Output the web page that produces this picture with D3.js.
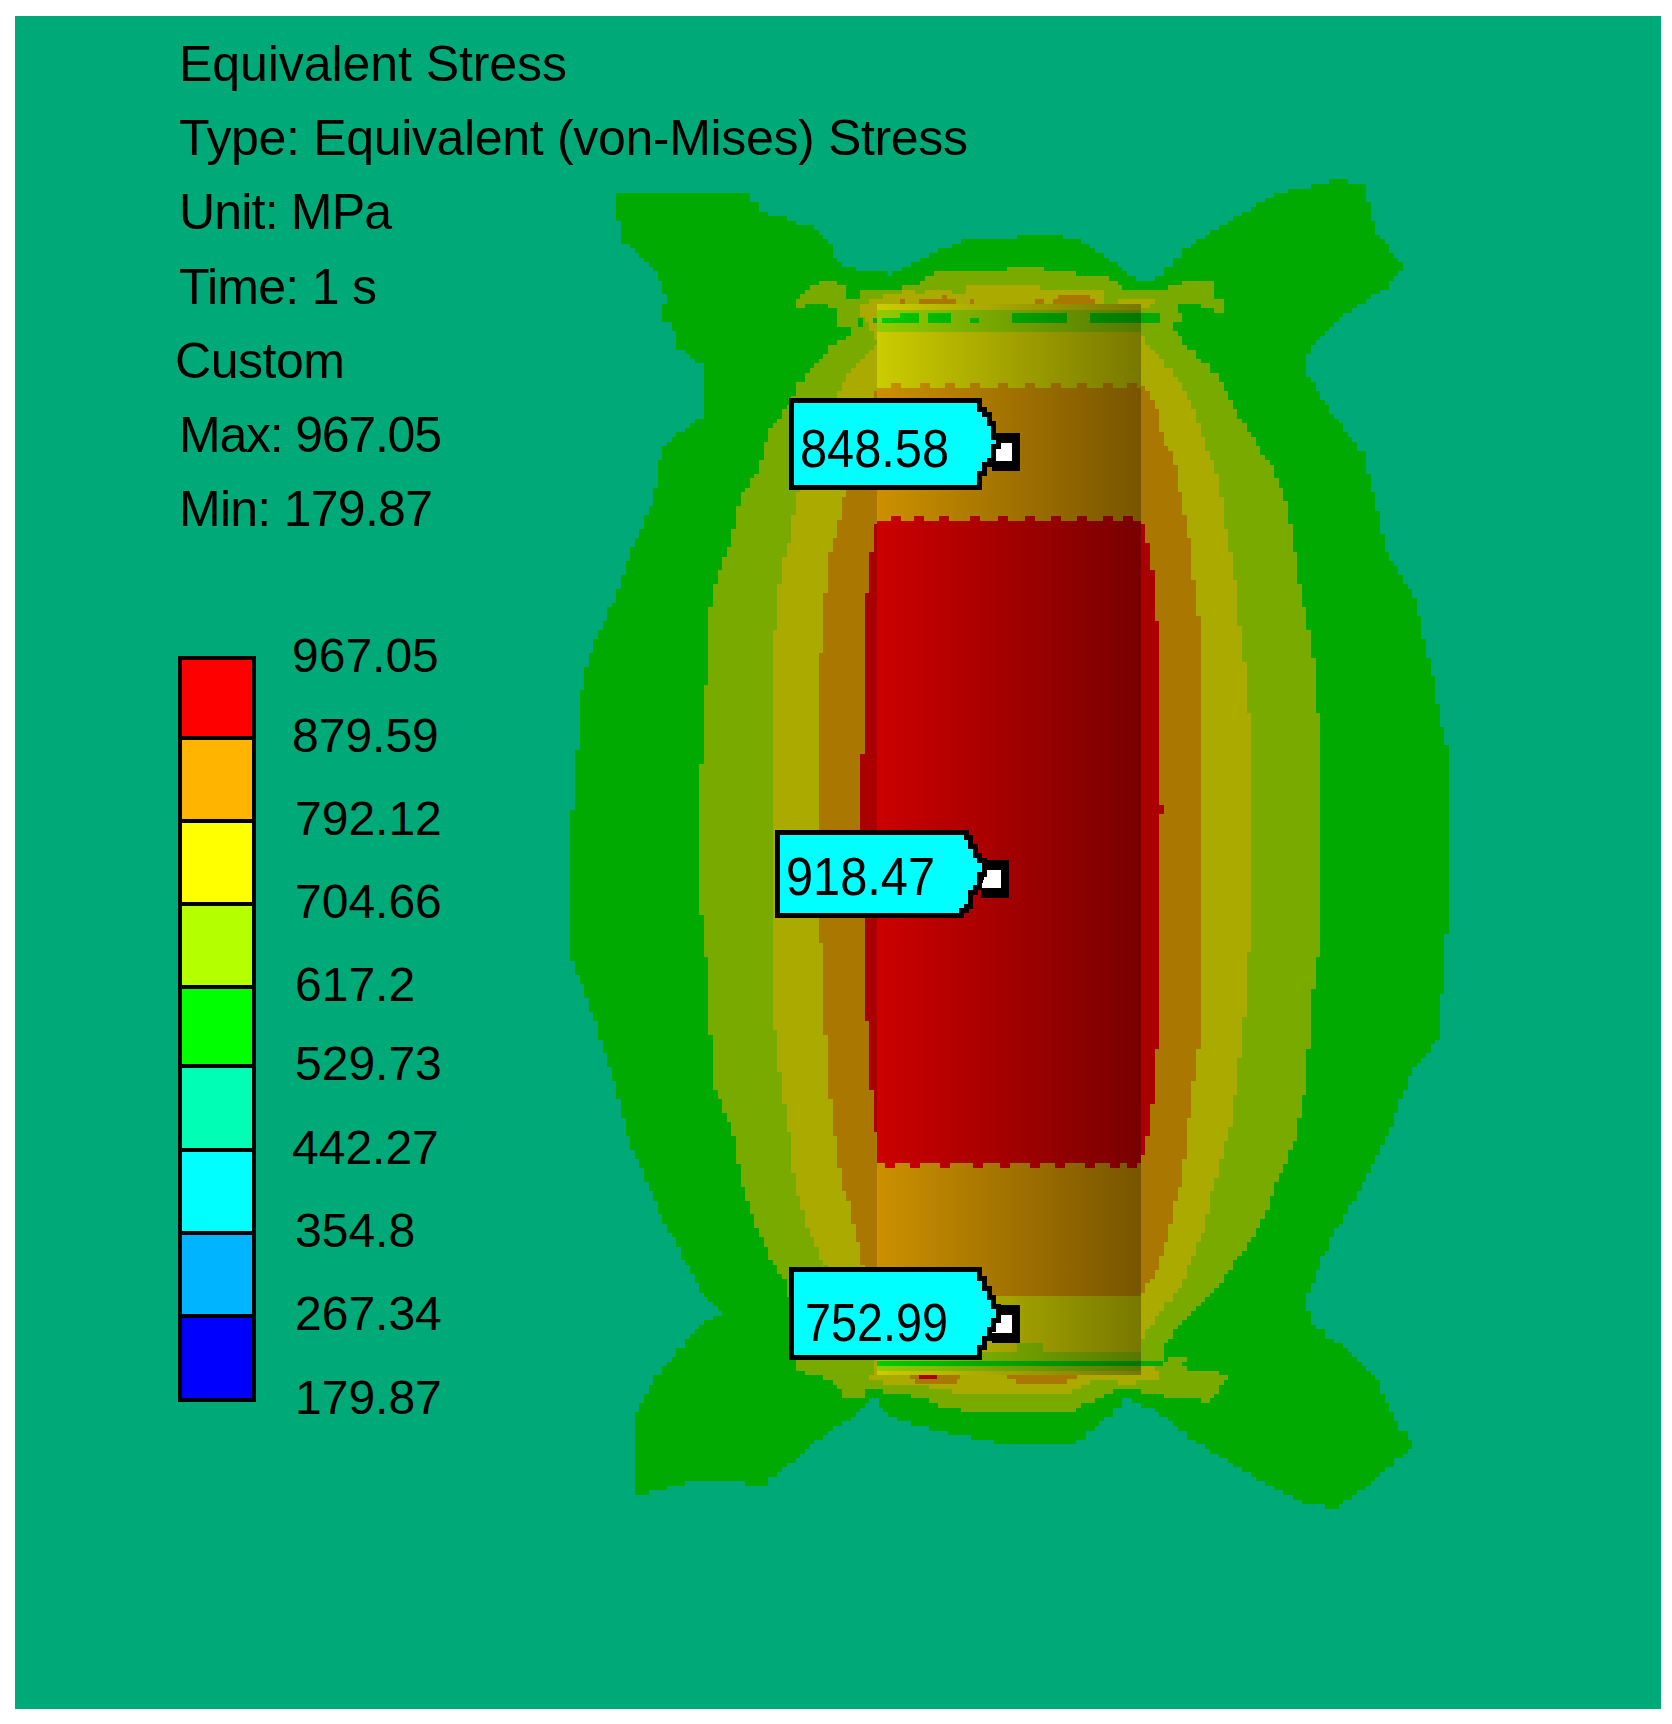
<!DOCTYPE html>
<html>
<head>
<meta charset="utf-8">
<title>Equivalent Stress</title>
<style>
body { margin: 0; background: #fff; }
svg { display: block; }
text { font-family: "Liberation Sans", sans-serif; fill: #000; }
.header { font-size: 50px; }
.tick { font-size: 48px; }
.tag { font-size: 54px; }
</style>
</head>
<body>
<script src="https://d3js.org/d3.v7.min.js"></script>
<script>
// legend
var legendLabels = ["967.05", "879.59", "792.12", "704.66", "617.2", "529.73", "442.27", "354.8", "267.34", "179.87"];
var legendColors = ["#ff0000", "#ffb400", "#ffff00", "#b4ff00", "#00ff00", "#00ffb4", "#00ffff", "#00b4ff", "#0000ff"];

// header lines
var headerLines = ["Equivalent Stress", "Type: Equivalent (von-Mises) Stress", "Unit: MPa", "Time: 1 s", "Custom", "Max: 967.05", "Min: 179.87"];

// probes
var probeLabels = ["848.58", "918.47", "752.99"];
var probeX = [1006, 995, 1006];
var probeY = [452, 879, 1324];

// contour outlines, one per lower stress limit
var contour529 = [[617,193],[715,193],[752,193],[752,202],[762,212],[783,217],[798,225],[812,225],[827,240],[840,267],[873,272],[890,275],[910,263],[962,240],[1045,235],[1077,240],[1114,263],[1134,280],[1154,280],[1180,253],[1212,230],[1249,207],[1280,192],[1335,180],[1364,184],[1375,230],[1404,269],[1387,288],[1352,311],[1329,330],[1306,357],[1306,372],[1329,410],[1364,456],[1373,494],[1387,556],[1416,602],[1433,682],[1447,750],[1451,872],[1444,974],[1438,1041],[1410,1076],[1387,1138],[1364,1183],[1329,1245],[1306,1303],[1312,1326],[1341,1347],[1375,1377],[1392,1418],[1415,1446],[1352,1500],[1335,1509],[1298,1500],[1249,1474],[1203,1446],[1168,1418],[1130,1397],[1108,1418],[1077,1444],[1008,1444],[950,1433],[892,1418],[875,1397],[853,1418],[836,1428],[767,1484],[692,1482],[635,1497],[635,1413],[655,1377],[698,1326],[721,1313],[703,1291],[663,1219],[629,1138],[609,1061],[577,969],[571,954],[571,826],[577,750],[582,686],[586,667],[594,640],[615,598],[629,556],[649,508],[659,470],[659,458],[663,448],[678,433],[700,417],[706,400],[706,365],[692,358],[678,345],[673,327],[664,317],[664,305],[668,295],[664,295],[663,282],[655,270],[632,245],[623,243],[617,212]];
var contour617 = [[795,297],[808,290],[817,282],[835,282],[845,285],[845,299],[858,299],[858,290],[900,290],[900,286],[915,285],[928,276],[940,272],[1007,272],[1007,267],[1043,267],[1043,272],[1077,272],[1077,276],[1103,276],[1118,285],[1127,290],[1150,292],[1168,287],[1183,282],[1215,282],[1215,300],[1225,300],[1225,313],[1207,307],[1178,303],[1178,315],[1183,318],[1183,323],[1173,323],[1173,332],[1178,338],[1197,357],[1220,380],[1234,410],[1272,468],[1289,514],[1295,556],[1303,609],[1312,644],[1318,716],[1322,750],[1322,939],[1315,969],[1306,1087],[1295,1143],[1278,1183],[1260,1229],[1217,1290],[1197,1310],[1173,1333],[1163,1353],[1163,1361],[1173,1357],[1188,1357],[1183,1366],[1188,1370],[1230,1375],[1217,1393],[1212,1403],[1202,1403],[1202,1398],[1178,1398],[1150,1393],[1127,1389],[1110,1393],[1105,1397],[1077,1407],[1077,1412],[980,1412],[947,1407],[937,1402],[915,1397],[913,1393],[887,1393],[882,1389],[863,1389],[863,1397],[840,1397],[840,1389],[831,1379],[817,1375],[808,1379],[808,1375],[798,1366],[787,1280],[772,1260],[758,1229],[744,1189],[732,1127],[715,1087],[710,1025],[706,954],[698,877],[698,842],[702,750],[702,724],[706,686],[710,609],[715,582],[732,533],[741,494],[757,470],[762,457],[767,433],[793,397],[798,383],[810,370],[830,347],[852,332],[853,327],[831,323],[835,318],[835,310],[827,305],[807,305],[798,308]];
var contour704 = [[858,304],[868,300],[892,295],[905,290],[913,290],[915,295],[928,290],[950,290],[955,295],[965,295],[965,286],[1040,286],[1040,290],[1103,290],[1103,303],[1127,300],[1155,300],[1150,308],[1141,309],[1141,338],[1150,348],[1168,370],[1177,380],[1191,403],[1203,441],[1220,487],[1226,533],[1234,571],[1240,628],[1246,682],[1252,750],[1253,923],[1249,954],[1243,1041],[1237,1081],[1232,1122],[1214,1189],[1203,1234],[1180,1290],[1160,1313],[1141,1340],[1141,1366],[1160,1370],[1160,1378],[1130,1384],[1100,1380],[1080,1388],[1070,1393],[960,1393],[937,1388],[914,1384],[882,1384],[882,1379],[868,1379],[868,1375],[877,1370],[864,1290],[824,1265],[807,1224],[795,1184],[790,1138],[781,1081],[775,1025],[771,964],[771,750],[775,628],[781,571],[790,533],[798,491],[840,388],[850,370],[868,352],[877,340]];
var contour792 = [[877,388],[1145,388],[1155,406],[1164,445],[1174,460],[1180,498],[1189,540],[1191,563],[1197,605],[1202,670],[1202,1000],[1197,1071],[1191,1092],[1189,1122],[1183,1173],[1174,1209],[1168,1240],[1160,1265],[1141,1296],[877,1296],[864,1270],[858,1240],[847,1194],[841,1178],[830,1097],[826,1041],[821,939],[817,903],[817,796],[821,750],[821,651],[826,590],[830,552],[836,533],[840,514],[845,491],[873,391]];
var contour879 = [[877,521],[1141,521],[1145,531],[1151,559],[1155,605],[1160,661],[1160,806],[1164,811],[1160,815],[1160,1013],[1155,1076],[1151,1117],[1145,1153],[1141,1163],[877,1163],[877,1138],[873,1102],[868,1036],[863,954],[863,842],[859,768],[863,750],[863,640],[868,582],[873,540]];

// cylinder face, stress per section going down
var cylinderBreaks = [304, 310, 332, 388, 521, 1163, 1296, 1352, 1366, 1371, 1375];
var cylinderStress = [750, 650, 750, 835, 920, 835, 750, 650, 650, 750];

// bright marks lying on the cylinder, shaded with it: x0, x1, y0, y1, stress
var facePatches = [
  [882,900,318,323,570],[900,919,313,323,570],[928,951,313,323,570],[970,979,318,323,570],
  [1012,1067,313,323,570],[1090,1141,313,323,570],
  [895,1141,1361,1366,570],[877,895,1361,1366,570],[1017,1043,1343,1352,650]
];

// small patches off the cylinder: x0, x1, y0, y1, stress
var patches = [
  [900,905,299,304,835],[919,956,299,304,835],[942,947,295,299,835],[970,974,299,304,835],
  [1035,1044,299,304,835],[1053,1095,299,304,835],[1058,1090,295,299,835],
  [1141,1160,313,323,570],[858,863,318,327,570],[873,877,318,323,570],[1141,1163,1361,1366,570],
  [910,960,1375,1379,835],[915,957,1379,1384,835],[919,937,1375,1379,920],
  [1007,1077,1375,1379,835],[1016,1067,1379,1384,835]
];

// teeth on the band edges of the cylinder
var teethTop = [896,919,944,975,1003,1030,1056,1082,1108,1128];
var teethBottom = [890,915,945,978,1005,1035,1060,1090,1115,1132];
var teethUpper = [896,925,950,975,1003,1030,1056,1082,1108,1132];

var width = 1672, height = 1724, cell = 4.6;

// tag boxes, outer edges
var tagLeft = [789, 775, 789], tagTop = [397, 829, 1269], tagBottom = [488, 919, 1361];
var tagBase = [467, 895, 1341], tagTextX = [800, 786, 805], tagTextLen = [149, 149, 143];
// legend edges
var legendEdges = [658, 738, 821, 904, 987, 1066, 1150, 1233, 1316, 1400];
var headerWidths = [388, 789, 213, 198, 170, 263, 254];

var svg = d3.select("body").append("svg").attr("width", width).attr("height", height);

var x = d3.scaleIdentity().domain([0, width]);
var y = d3.scaleIdentity().domain([0, height]);

// bands on the model are the legend colours at 2/3 brightness
var legendLimits = legendLabels.slice().reverse().map(Number);
var colorOf = d3.scaleThreshold()
    .domain(legendLimits.slice(1, -1))
    .range(legendColors.slice().reverse());

function dim(c) {
    var r = d3.rgb(c);
    return d3.rgb(r.r * 2 / 3, r.g * 2 / 3, r.b * 2 / 3).formatHex();
}

// snap an outline to the coarse pixels of the solver screenshot
function stairs(points) {
    var out = [];
    points.concat([points[0]]).forEach(function(p, i, all) {
        if (i == 0) return;
        var a = all[i - 1];
        var n = Math.ceil(Math.hypot(p[0] - a[0], p[1] - a[1]) / cell);
        for (var k = 0; k <= n; k++) {
            var sx = Math.round((a[0] + (p[0] - a[0]) * k / n) / cell) * cell;
            var sy = Math.round((a[1] + (p[1] - a[1]) * k / n) / cell) * cell;
            var last = out[out.length - 1];
            if (last && last[0] != sx && last[1] != sy) out.push([sx, last[1]]);
            out.push([sx, sy]);
        }
    });
    return out;
}

var line = d3.line().x(function(d) { return x(d[0]); }).y(function(d) { return y(d[1]); });

// background
svg.append("rect").attr("x", 15).attr("y", 16).attr("width", 1646).attr("height", 1693)
    .attr("fill", dim(colorOf(500)));

// contours
var contours = [[contour529, 570], [contour617, 650], [contour704, 750], [contour792, 835], [contour879, 920]];
svg.append("g").selectAll("path").data(contours).enter().append("path")
    .attr("d", function(d) { return line(stairs(d[0])) + "Z"; })
    .attr("fill", function(d) { return dim(colorOf(d[1])); })
    .attr("shape-rendering", "crispEdges");

// cylinder
var shade = svg.append("defs").append("linearGradient").attr("id", "shade");
shade.append("stop").attr("offset", "0%").attr("stop-color", "#000").attr("stop-opacity", 0.2);
shade.append("stop").attr("offset", "100%").attr("stop-color", "#000").attr("stop-opacity", 0.53);

var cylX0 = 877, cylX1 = 1141;
var cyl = svg.append("g").attr("shape-rendering", "crispEdges");
cyl.selectAll("rect.section").data(cylinderStress).enter().append("rect")
    .attr("class", "section")
    .attr("x", x(cylX0)).attr("width", x(cylX1) - x(cylX0))
    .attr("y", function(d, i) { return y(cylinderBreaks[i]); })
    .attr("height", function(d, i) { return y(cylinderBreaks[i + 1]) - y(cylinderBreaks[i]); })
    .attr("fill", function(d) { return colorOf(d); });

function teeth(xs, top, stress) {
    cyl.append("g").selectAll("rect").data(xs).enter().append("rect")
        .attr("x", function(d) { return x(d) - 5; }).attr("width", 10)
        .attr("y", y(top)).attr("height", cell)
        .attr("fill", colorOf(stress));
}
teeth(teethUpper, 383.4, 835);
teeth(teethTop, 516.4, 920);
teeth(teethBottom, 1163, 920);

function drawPatches(list, g, fill) {
    g.append("g").selectAll("rect").data(list).enter().append("rect")
        .attr("x", function(d) { return x(d[0]); })
        .attr("width", function(d) { return x(d[1]) - x(d[0]); })
        .attr("y", function(d) { return y(d[2]); })
        .attr("height", function(d) { return y(d[3]) - y(d[2]); })
        .attr("fill", fill);
}
drawPatches(facePatches, cyl, function(d) { return colorOf(d[4]); });

cyl.append("rect")
    .attr("x", x(cylX0)).attr("width", x(cylX1) - x(cylX0))
    .attr("y", y(cylinderBreaks[0])).attr("height", y(cylinderBreaks[10]) - y(cylinderBreaks[0]))
    .attr("fill", "url(#shade)");

drawPatches(patches, svg.append("g").attr("shape-rendering", "crispEdges"), function(d) { return dim(colorOf(d[4])); });

// probe tags
probeLabels.forEach(function(label, i) {
    var px = x(probeX[i]), py = y(probeY[i]);
    var m = svg.append("g").attr("shape-rendering", "crispEdges");
    m.append("rect").attr("x", px - 14).attr("y", py - 19).attr("width", 28).attr("height", 38).attr("fill", "#000");
    m.append("path").attr("d", d3.line()([[px - 14, py + 9], [px - 8, py - 9], [px + 6, py - 9], [px + 6, py + 9]]) + "Z").attr("fill", "#fff");

    var l = tagLeft[i] + 2.5, r = l + 186, t = tagTop[i] + 2.5, b = tagBottom[i] - 2.5, mid = py - 9;
    svg.append("path")
        .attr("d", line(stairs([[l, t], [r, t], [r + 22, mid], [r, b], [l, b]])) + "Z")
        .attr("fill", "#00ffff").attr("stroke", "#000").attr("stroke-width", 5)
        .attr("shape-rendering", "crispEdges");
    svg.append("text").attr("class", "tag")
        .attr("x", tagTextX[i]).attr("y", tagBase[i])
        .attr("textLength", tagTextLen[i]).attr("lengthAdjust", "spacingAndGlyphs")
        .text(label);
});

// legend bar
var barY = d3.scaleOrdinal().domain(legendLabels).range(legendEdges);
var legend = svg.append("g").attr("shape-rendering", "crispEdges");
legend.selectAll("rect").data(legendColors).enter().append("rect")
    .attr("x", 180).attr("width", 74)
    .attr("y", function(d, i) { return barY(legendLabels[i]); })
    .attr("height", function(d, i) { return barY(legendLabels[i + 1]) - barY(legendLabels[i]); })
    .attr("fill", function(d) { return d; })
    .attr("stroke", "#000").attr("stroke-width", 4);

svg.append("g").selectAll("text").data(legendLabels).enter().append("text")
    .attr("class", "tick")
    .attr("x", function(d, i) { return i < 2 || i == 6 ? 292 : 295; })
    .attr("y", function(d) { return barY(d) + 14; })
    .text(function(d) { return d; });

// header
svg.append("g").selectAll("text").data(headerLines).enter().append("text")
    .attr("class", "header")
    .attr("x", function(d) { return d == "Custom" ? 175 : 179; })
    .attr("y", function(d, i) { return 81 + i * 74.2; })
    .attr("textLength", function(d, i) { return headerWidths[i]; })
    .text(function(d) { return d; });
</script>
</body>
</html>
